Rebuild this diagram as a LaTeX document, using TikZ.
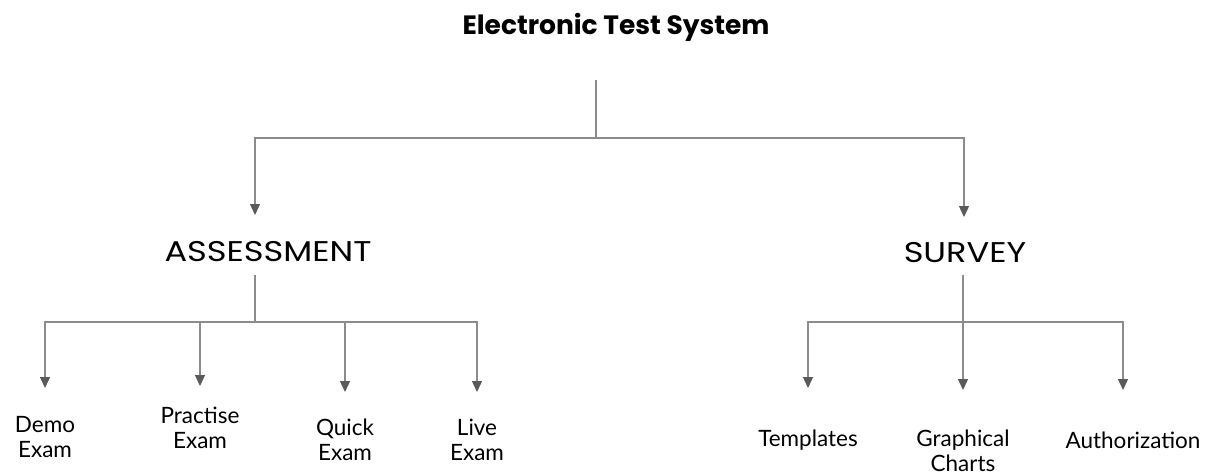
\documentclass[tikz,border=0pt]{standalone}
\usepackage{fontspec}
\setmainfont{Lato}
\newfontfamily\headfont{Poppins}
\newfontfamily\headwidefont[FakeStretch=1.18]{Poppins}
\usetikzlibrary{arrows.meta}
\definecolor{linegray}{HTML}{8C8C8C}
\definecolor{tipgray}{HTML}{5A5A5A}
\tikzset{
  conn/.style={draw=linegray, line width=1.4pt},
  arr/.style={conn, -{Triangle[width=10pt,length=11pt,color=tipgray]}},
  titlebox/.style={font=\headfont\bfseries\fontsize{26.5}{30}\selectfont, inner sep=0pt},
  headbox/.style={font=\headwidefont\fontsize{28.5}{32}\selectfont, inner sep=0pt},
  leafbox/.style={font=\fontsize{22.5}{25}\selectfont, align=center, inner sep=0pt},
}
\begin{document}
\begin{tikzpicture}[x=1pt,y=-1pt]
\useasboundingbox (0,0) rectangle (1212,476);
% nodes
\node[titlebox] (title) at (616,27) {Electronic Test System};
\node[headbox] (ass) at (268,252) {ASSESSMENT};
\node[headbox] (sur) at (965,253) {SURVEY};
\node[leafbox] (demo) at (45,437) {Demo\\Exam};
\node[leafbox] (prac) at (200,428) {Practise\\Exam};
\node[leafbox] (quick) at (345,440) {Quick\\Exam};
\node[leafbox] (live) at (477,440) {Live\\Exam};
\node[leafbox] (temp) at (808,440) {Templates};
\node[leafbox] (graph) at (963,451) {Graphical\\Charts};
\node[leafbox] (auth) at (1133,440) {Authorization};
% coordinates
\coordinate (t0) at (596,80);
\coordinate (tj) at (596,138);
\coordinate (tass) at (255,215);
\coordinate (tsur) at (964,217);
\coordinate (a0) at (255,275);
\coordinate (aj) at (255,322);
\coordinate (tdemo) at (45,388);
\coordinate (tprac) at (200,386);
\coordinate (tquick) at (345,392);
\coordinate (tlive) at (477,392);
\coordinate (s0) at (963,275);
\coordinate (sj) at (963,322);
\coordinate (ttemp) at (808,388);
\coordinate (tgraph) at (963,390);
\coordinate (tauth) at (1123,390);
% connectors
\draw[conn] (t0) -- (tj);
\draw[arr] (tj) -| (tass);
\draw[arr] (tj) -| (tsur);
\draw[conn] (a0) -- (aj);
\draw[arr] (aj) -| (tdemo);
\draw[arr] (aj) -| (tprac);
\draw[arr] (aj) -| (tquick);
\draw[arr] (aj) -| (tlive);
\draw[conn] (s0) -- (sj);
\draw[arr] (sj) -| (ttemp);
\draw[arr] (sj) -- (tgraph);
\draw[arr] (sj) -| (tauth);
\end{tikzpicture}
\end{document}
